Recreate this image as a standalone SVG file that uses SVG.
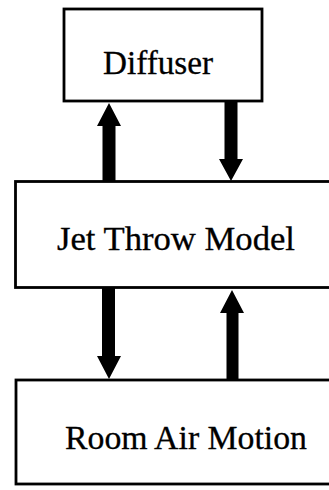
<svg xmlns="http://www.w3.org/2000/svg" width="329" height="490" viewBox="0 0 329 490">
<style>
.box{fill:#fff;stroke:#000;stroke-width:2.8}
.lbl{font-family:"Liberation Serif","Times New Roman",serif;font-size:33px;fill:#000;stroke:#000;stroke-width:0.3}
.arr{fill:#000;stroke:none}
</style>
<rect width="329" height="490" fill="#fff"/>
<g id="diffuser">
<rect class="box" x="64" y="9" width="198" height="92"/>
<text class="lbl" x="103" y="74" textLength="110" lengthAdjust="spacingAndGlyphs">Diffuser</text>
</g>
<g id="jet-throw-model">
<rect class="box" x="15.5" y="181.5" width="330" height="106"/>
<text class="lbl" x="57" y="250" textLength="238" lengthAdjust="spacingAndGlyphs">Jet Throw Model</text>
</g>
<g id="room-air-motion">
<rect class="box" x="16" y="380" width="330" height="104"/>
<text class="lbl" x="65" y="449" textLength="242" lengthAdjust="spacingAndGlyphs">Room Air Motion</text>
</g>
<g id="connectors">
<polygon class="arr" points="102.5,181 102.5,126 97,126 109,103 121,126 115.5,126 115.5,181"/>
<polygon class="arr" points="224.5,102 224.5,159 219,159 231,181 243,159 237.5,159 237.5,102"/>
<polygon class="arr" points="102,288 102,356 97,356 109,379 121,356 115,356 115,288"/>
<polygon class="arr" points="226.5,380 226.5,313 220,313 232,290 244,313 238.5,313 238.5,380"/>
</g>
</svg>
